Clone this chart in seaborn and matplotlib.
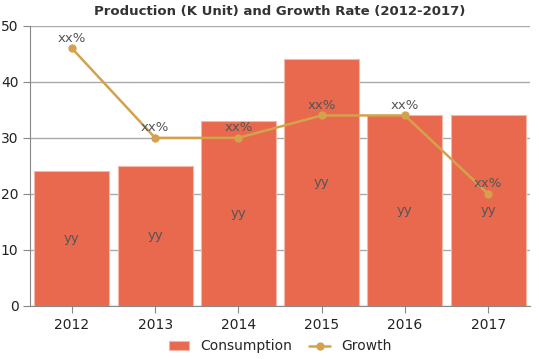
import seaborn as sns
import matplotlib.pyplot as plt
import pandas as pd

years = ['2012', '2013', '2014', '2015', '2016', '2017']
consumption = [24, 25, 33, 44, 34, 34]
growth = [46, 30, 30, 34, 34, 20]

bar_color = '#E8694E'
line_color = '#D4A24C'

df = pd.DataFrame({'Year': years, 'Consumption': consumption, 'Growth': growth})

sns.set_style('white')
plt.rcParams['font.family'] = ['DejaVu Sans']

fig = plt.figure(figsize=(5.39, 3.59), dpi=100)
ax = fig.add_axes([0.056, 0.148, 0.927, 0.78])

sns.barplot(data=df, x='Year', y='Consumption', color=bar_color, width=0.9,
            saturation=1, ax=ax, label='Consumption', zorder=2,
            edgecolor='#f3b7a9', linewidth=0.8)
sns.lineplot(data=df, x='Year', y='Growth', color=line_color, marker='o',
             markersize=6, markeredgewidth=0, linewidth=1.8, ax=ax,
             label='Growth', zorder=3)

for i, (c, g) in enumerate(zip(consumption, growth)):
    ax.text(i, c / 2, 'yy', ha='center', va='center', fontsize=9.5, color='#555555', zorder=4)
    ax.text(i, g + 0.6, 'xx%', ha='center', va='bottom', fontsize=9.5, color='#555555', zorder=4)

ax.set_ylim(0, 50)
ax.set_xlim(-0.5, 5.5)
ax.set_yticks(range(0, 51, 10))
ax.yaxis.grid(True, color='#aaaaaa', linewidth=1, zorder=0)
ax.set_axisbelow(True)
ax.set_xlabel('')
ax.set_ylabel('')
for s in ['top', 'right']:
    ax.spines[s].set_visible(False)
for s in ['left', 'bottom']:
    ax.spines[s].set_color('#888888')
ax.tick_params(axis='both', labelsize=10, colors='#222222', length=5, color='#888888', left=True, bottom=True)

ax.set_title('Production (K Unit) and Growth Rate (2012-2017)', fontsize=9.5,
             fontweight='heavy', color='#333333', pad=8,
             family=['Liberation Sans Narrow', 'DejaVu Sans'])

handles, labels = ax.get_legend_handles_labels()
order = [labels.index('Consumption'), labels.index('Growth')]
ax.legend([handles[k] for k in order], [labels[k] for k in order],
          loc='upper center', bbox_to_anchor=(0.5, -0.075), ncol=2, frameon=False,
          fontsize=10, handlelength=1.5, columnspacing=1.2)

fig.savefig('out.png', dpi=100)
